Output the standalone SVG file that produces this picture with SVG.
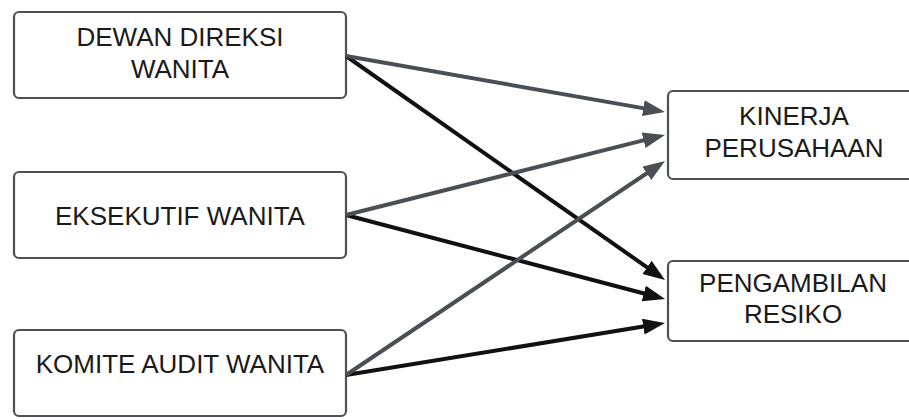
<svg xmlns="http://www.w3.org/2000/svg" width="909" height="420" viewBox="0 0 909 420">
<style>
.box{fill:#fff;stroke:#4d5157;stroke-width:2.2}
.t{font-family:"Liberation Sans",Arial,sans-serif;font-size:26px;fill:#1a1a1a;text-anchor:middle}
.g{stroke:#4a4f56;stroke-width:4;fill:none}
.k{stroke:#111;stroke-width:4;fill:none}
</style>
<defs>
<marker id="ag" markerUnits="userSpaceOnUse" markerWidth="24" markerHeight="18" refX="14" refY="8" orient="auto"><path d="M0,0 L22,8 L0,16 z" fill="#4a4f56"/></marker>
<marker id="ak" markerUnits="userSpaceOnUse" markerWidth="24" markerHeight="18" refX="14" refY="8" orient="auto"><path d="M0,0 L22,8 L0,16 z" fill="#111"/></marker>
</defs>
<rect width="909" height="420" fill="#fff"/>
<g id="n1"><rect class="box" x="14" y="12" width="332" height="86" rx="5"/><text class="t" x="180" y="46">DEWAN DIREKSI</text><text class="t" x="180" y="78">WANITA</text></g>
<g id="n2"><rect class="box" x="14" y="172" width="332" height="86" rx="5"/><text class="t" x="180" y="225">EKSEKUTIF WANITA</text></g>
<g id="n3"><rect class="box" x="14" y="330" width="332" height="86" rx="5"/><text class="t" x="180" y="373">KOMITE AUDIT WANITA</text></g>
<g id="n4"><rect class="box" x="668" y="91" width="260" height="88" rx="5"/><text class="t" x="794" y="125">KINERJA</text><text class="t" x="794" y="157">PERUSAHAAN</text></g>
<g id="n5"><rect class="box" x="668" y="261" width="260" height="80" rx="5"/><text class="t" x="793" y="292">PENGAMBILAN</text><text class="t" x="793" y="323">RESIKO</text></g>
<g id="connectors">
<line class="k" x1="346" y1="56" x2="658.5" y2="275.4" marker-end="url(#ak)"/>
<line class="k" x1="346" y1="215" x2="657.3" y2="297" marker-end="url(#ak)"/>
<line class="k" x1="346" y1="375" x2="657.1" y2="324.3" marker-end="url(#ak)"/>
<line class="g" x1="346" y1="56" x2="657.1" y2="110.6" marker-end="url(#ag)"/>
<line class="g" x1="346" y1="215" x2="657.2" y2="136.9" marker-end="url(#ag)"/>
<line class="g" x1="346" y1="375" x2="658.4" y2="165.5" marker-end="url(#ag)"/>
</g>
</svg>
